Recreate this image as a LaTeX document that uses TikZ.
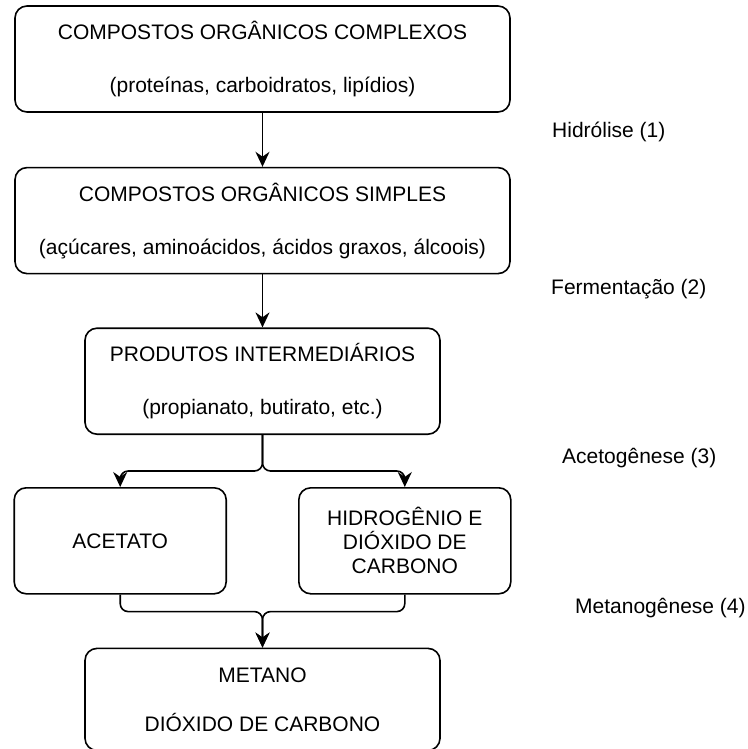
\documentclass[tikz,border=0pt]{standalone}
\usepackage{fontspec}
\setmainfont{Liberation Sans}
\usetikzlibrary{arrows.meta}
\usetikzlibrary{positioning, calc}
\tikzset{
    stage/.style={draw, rounded corners=12pt, line width=1.6pt, align=center, minimum height=106pt, inner sep=4pt, font=\fontsize{21}{27}\selectfont},
    phase/.style={anchor=west, inner sep=0pt, font=\fontsize{21}{25}\selectfont},
    flow/.style={line width=1.6pt, rounded corners=8pt, -{Stealth[length=15pt, width=14pt]}},
}

\begin{document}
\begin{tikzpicture}[x=1pt, y=1pt]
    \useasboundingbox (0,0) rectangle (747,-749);

    % Stages
    \node[stage, minimum width=495pt] (complexos) at (262.5,-59) {COMPOSTOS ORGÂNICOS COMPLEXOS\\[26pt](proteínas, carboidratos, lipídios)};
    \node[stage, minimum width=495pt, below=54pt of complexos] (simples) {COMPOSTOS ORGÂNICOS SIMPLES\\[26pt](açúcares, aminoácidos, ácidos graxos, álcoois)};
    \node[stage, minimum width=355pt, below=53pt of simples] (inter) {PRODUTOS INTERMEDIÁRIOS\\[26pt](propianato, butirato, etc.)};
    \node[stage, minimum width=212pt, below left=52pt and 35.5pt of inter.south] (acetato) {ACETATO};
    \node[stage, minimum width=212pt, font=\fontsize{21}{24}\selectfont, below right=52pt and 35.5pt of inter.south] (hidrog) {HIDROGÊNIO E\\DIÓXIDO DE\\CARBONO};
    \node[stage, minimum width=355pt, minimum height=102pt, anchor=north] (metano) at ($(inter.south |- acetato.south)+(0,-53)$) {METANO\\[22pt]DIÓXIDO DE CARBONO};

    % Phases
    \node[phase] (hidrolise) at (552,-132) {Hidrólise (1)};
    \node[phase] (fermentacao) at (551,-289) {Fermentação (2)};
    \node[phase] (acetogenese) at (562,-458) {Acetogênese (3)};
    \node[phase] (metanogenese) at (575,-608) {Metanogênese (4)};

    % Flows
    \draw[flow] (complexos) -- (simples);
    \draw[flow] (simples) -- (inter);
    \draw[flow] (inter.south) |- ($(acetato.north)+(0,16)$) -- (acetato.north);
    \draw[flow] (inter.south) |- ($(hidrog.north)+(0,16)$) -- (hidrog.north);
    \draw[flow] (acetato.south) |- ($(metano.north)+(0,36)$) -- (metano.north);
    \draw[flow] (hidrog.south) |- ($(metano.north)+(0,36)$) -- (metano.north);

\end{tikzpicture}
\end{document}
